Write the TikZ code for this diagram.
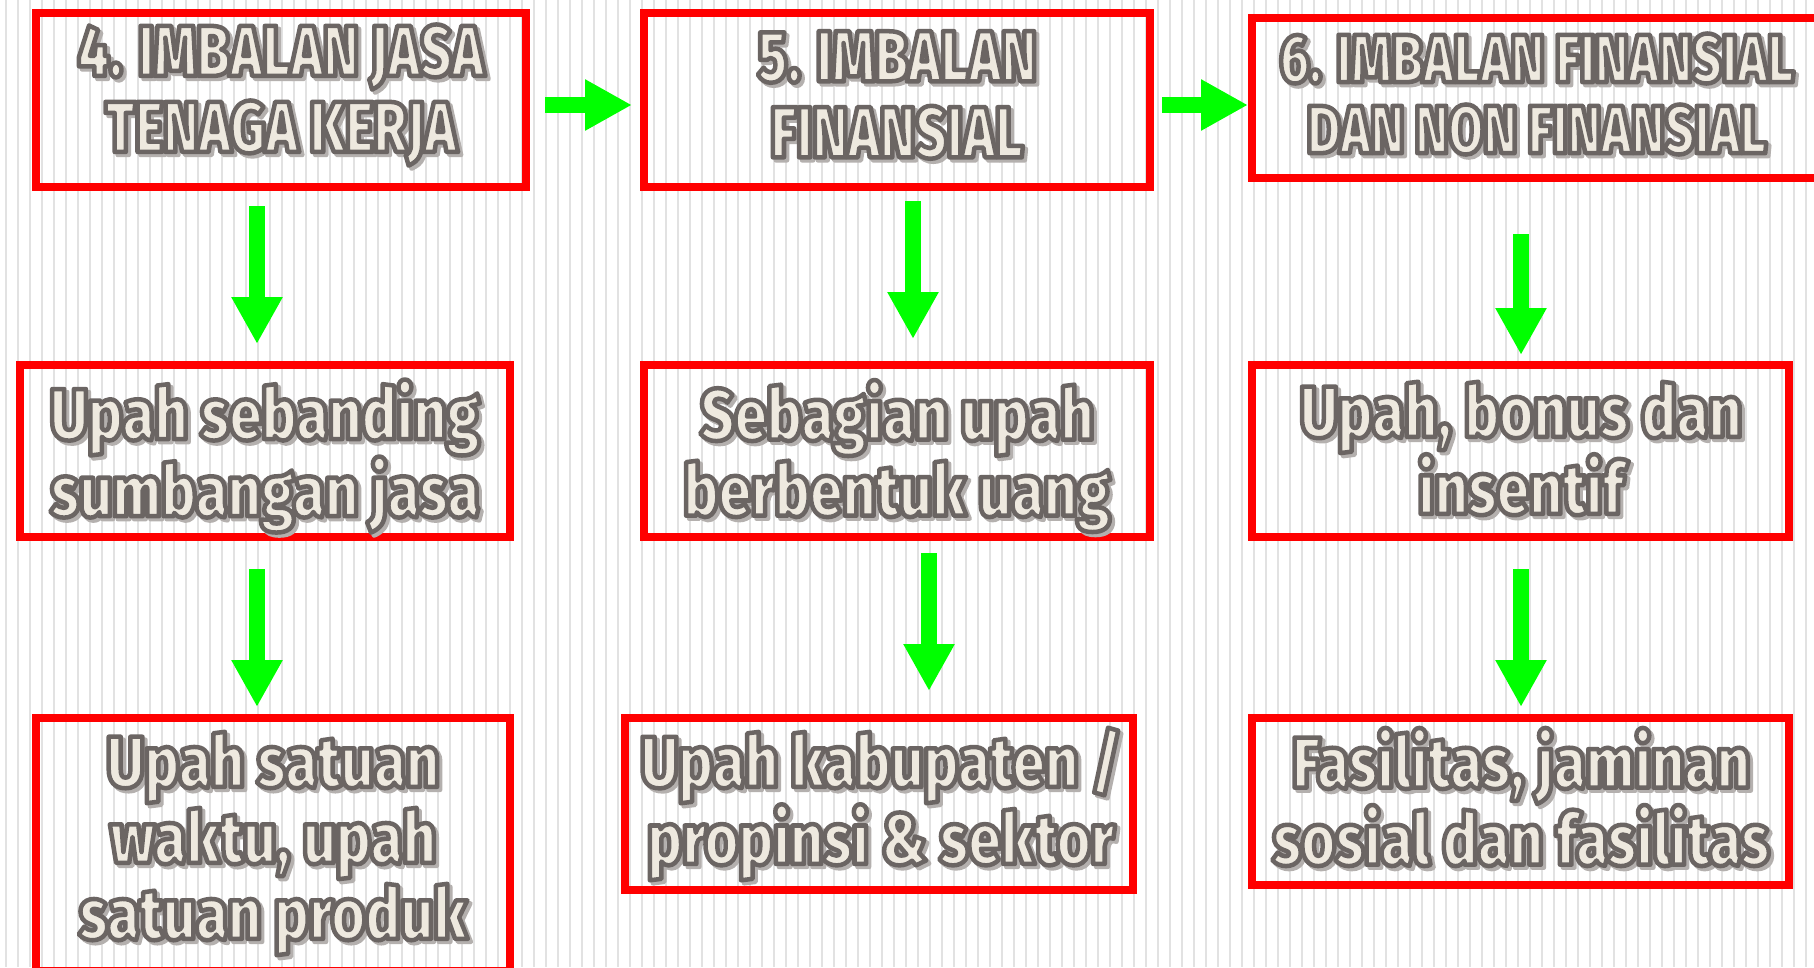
\documentclass[tikz,border=0pt]{standalone}
\usepackage{fontspec}
\newfontfamily\titlefont{Fira Sans}[UprightFont={* Black}, FakeStretch=0.75]
\newfontfamily\bodyfont{Fira Sans}[UprightFont={* Black}, FakeStretch=0.81]
\usetikzlibrary{arrows.meta}
\definecolor{boxred}{RGB}{255,0,0}
\definecolor{arrgreen}{RGB}{0,255,0}
\definecolor{txtfill}{RGB}{238,233,223}
\definecolor{txtshade}{RGB}{180,176,174}
\definecolor{stripecol}{RGB}{226,226,226}
\newcommand\outlinetext{\special{pdf:literal direct 2 Tr 0.42 0.396 0.388 RG 4.5 w 1 j}}
\newcommand\shadowtext{\special{pdf:literal direct 2 Tr 4.5 w 1 j}}
\tikzset{
  stripe/.style={draw=stripecol, line width=2pt},
  redbox/.style={draw=boxred, line width=8pt, inner sep=0pt},
  bigtxt/.style={font=\titlefont\fontsize{72}{76}\selectfont, align=center, inner sep=0pt},
  midtxt/.style={font=\titlefont\fontsize{68}{71}\selectfont, align=center, inner sep=0pt},
  bodytxt/.style={font=\bodyfont\fontsize{72}{76}\selectfont, align=center, inner sep=0pt},
  maintxt/.style={text=txtfill},
  shadetxt/.style={text=txtshade},
  arr/.style={draw=arrgreen, line width=16pt, -{Triangle[length=47pt,width=48pt]}}
}
\begin{document}
\begin{tikzpicture}[x=1pt,y=-1pt]
\useasboundingbox (0,0) rectangle (1814,967);
\fill[white] (0,0) rectangle (1814,967);
\foreach \i in {0,...,151} \draw[stripe] ({6+12*\i},0) -- ({6+12*\i},967);

% boxes
\node[redbox, minimum width=490pt, minimum height=174pt] (a1) at (281,100) {};
\node[redbox, minimum width=506pt, minimum height=174pt] (b1) at (897,100) {};
\node[redbox, minimum width=574pt, minimum height=160pt] (c1) at (1539,98) {};
\node[redbox, minimum width=490pt, minimum height=172pt] (a2) at (265,451) {};
\node[redbox, minimum width=506pt, minimum height=172pt] (b2) at (897,451) {};
\node[redbox, minimum width=537pt, minimum height=172pt] (c2) at (1520.5,451) {};
\node[redbox, minimum width=474pt, minimum height=253pt] (a3) at (273,844.5) {};
\node[redbox, minimum width=508pt, minimum height=172pt] (b3) at (879,804) {};
\node[redbox, minimum width=537pt, minimum height=167pt] (c3) at (1520.5,801.5) {};

% shadows
\foreach \p/\q/\t/\s in {
  284/98/{4. IMBALAN JASA\\TENAGA KERJA}/bigtxt,
  900/98/{5. IMBALAN\\FINANSIAL}/bigtxt,
  1540/97/{6. IMBALAN FINANSIAL\\DAN NON FINANSIAL}/midtxt,
  268/459/{Upah sebanding\\sumbangan jasa}/bodytxt,
  900/459/{Sebagian upah\\berbentuk uang}/bodytxt,
  1524/451.5/{Upah, bonus dan\\insentif}/bodytxt,
  276/846.5/{Upah satuan\\waktu, upah\\satuan produk}/bodytxt,
  884/807/{Upah kabupaten /\\propinsi \& sektor}/bodytxt,
  1524/800/{Fasilitas, jaminan\\sosial dan fasilitas}/bodytxt}
  \node[\s, shadetxt] at (\p,\q) {\shadowtext\t};

% texts
\node[bigtxt, maintxt] (ta1) at (281,95) {\outlinetext 4. IMBALAN JASA\\TENAGA KERJA};
\node[bigtxt, maintxt] (tb1) at (897,95) {\outlinetext 5. IMBALAN\\FINANSIAL};
\node[midtxt, maintxt] (tc1) at (1537,94) {\outlinetext 6. IMBALAN FINANSIAL\\DAN NON FINANSIAL};
\node[bodytxt, maintxt] (ta2) at (265,456) {\outlinetext Upah sebanding\\sumbangan jasa};
\node[bodytxt, maintxt] (tb2) at (897,456) {\outlinetext Sebagian upah\\berbentuk uang};
\node[bodytxt, maintxt] (tc2) at (1521,448.5) {\outlinetext Upah, bonus dan\\insentif};
\node[bodytxt, maintxt] (ta3) at (273,843.5) {\outlinetext Upah satuan\\waktu, upah\\satuan produk};
\node[bodytxt, maintxt] (tb3) at (881,804) {\outlinetext Upah kabupaten /\\propinsi \& sektor};
\node[bodytxt, maintxt] (tc3) at (1521,797) {\outlinetext Fasilitas, jaminan\\sosial dan fasilitas};

% arrows
\coordinate (h1s) at (545,105);  \coordinate (h1e) at (632,105);
\coordinate (h2s) at (1162,105); \coordinate (h2e) at (1248,105);
\coordinate (da1s) at (257,206); \coordinate (da1e) at (257,344);
\coordinate (da2s) at (257,569); \coordinate (da2e) at (257,707);
\coordinate (db1s) at (913,201); \coordinate (db1e) at (913,339);
\coordinate (db2s) at (929,553); \coordinate (db2e) at (929,691);
\coordinate (dc1s) at (1521,234); \coordinate (dc1e) at (1521,355);
\coordinate (dc2s) at (1521,569); \coordinate (dc2e) at (1521,707);
\draw[arr] (h1s) -- (h1e);
\draw[arr] (h2s) -- (h2e);
\draw[arr] (da1s) -- (da1e);
\draw[arr] (da2s) -- (da2e);
\draw[arr] (db1s) -- (db1e);
\draw[arr] (db2s) -- (db2e);
\draw[arr] (dc1s) -- (dc1e);
\draw[arr] (dc2s) -- (dc2e);
\end{tikzpicture}
\end{document}
